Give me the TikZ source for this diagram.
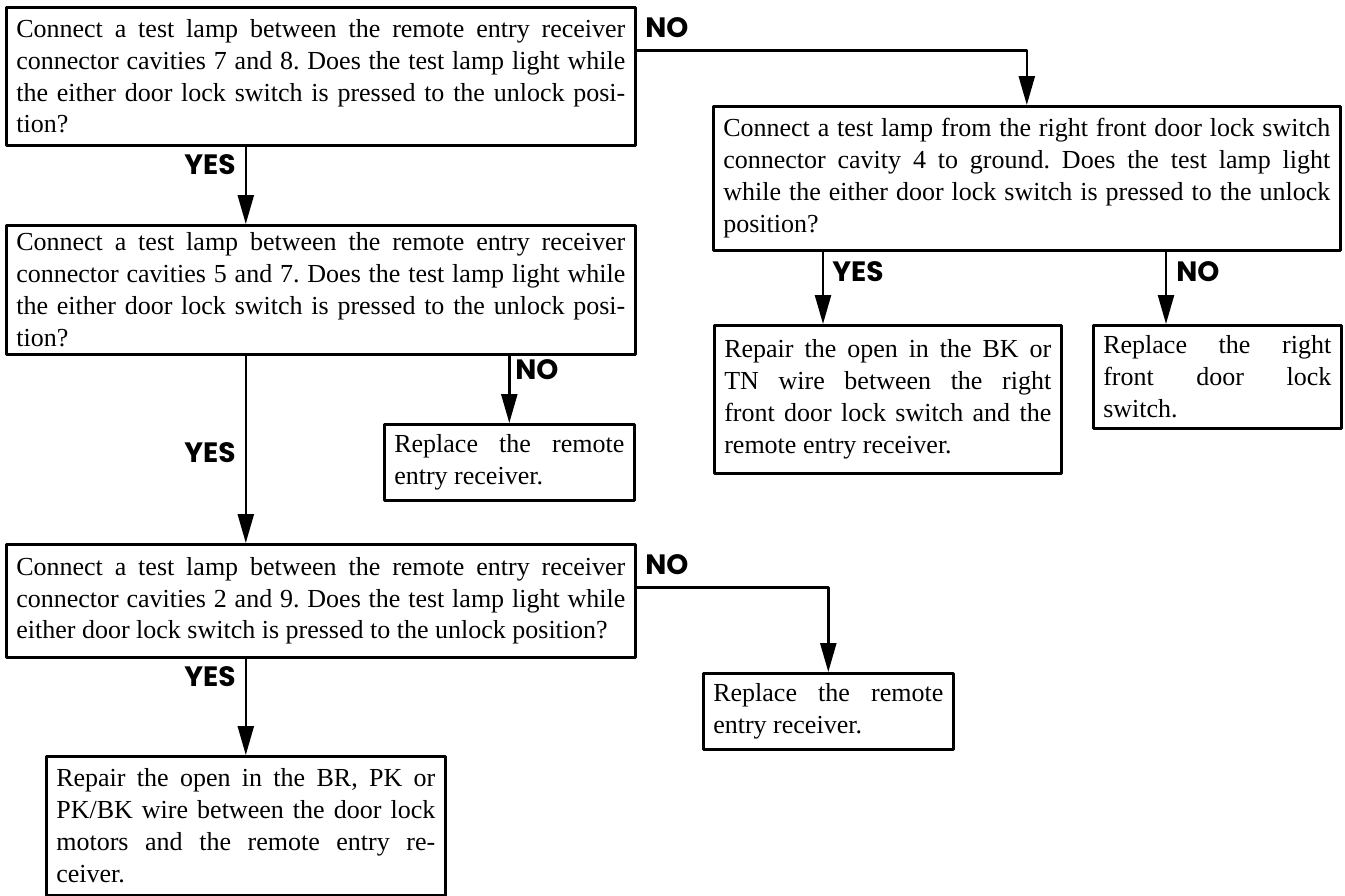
\documentclass[tikz,border=0pt]{standalone}
\usepackage{fontspec}
\setmainfont{Liberation Serif}
\newfontfamily\lblfont{Poppins}
\usetikzlibrary{arrows.meta}
\frenchspacing

\begin{document}
\begin{tikzpicture}[x=0.5pt,y=-0.5pt,line join=round,
	box/.style={draw,line width=1.3pt,inner xsep=5pt,inner ysep=0pt,align=justify,anchor=north west,font=\fontsize{13}{15.9}\selectfont},
	ans/.style={font=\lblfont\bfseries\fontsize{14}{14}\selectfont,inner sep=0pt},
	arr/.style={line width=1.2pt,-{Triangle[length=14.5pt,width=8pt]}}]
	\fill[white] (0,0) rectangle (1345,895);
	\useasboundingbox (0,0) rectangle (1345,895);
	% left column
	\node[box,text width=304.5pt,minimum height=69pt] (q1) at (5,6) {Connect a test lamp between the remote entry receiver\linebreak connector cavities 7 and 8. Does the test lamp light while\linebreak the either door lock switch is pressed to the unlock posi-\linebreak tion?};
	\node[box,text width=304.5pt,minimum height=64.5pt] (q2) at (5,224) {Connect a test lamp between the remote entry receiver\linebreak connector cavities 5 and 7. Does the test lamp light while\linebreak the either door lock switch is pressed to the unlock posi-\linebreak tion?};
	\node[box,text width=115pt,minimum height=38pt] (rr1) at (383,423) {Replace the remote\linebreak entry receiver.};
	\node[box,text width=304.5pt,minimum height=56.5pt] (q3) at (5,543) {Connect a test lamp between the remote entry receiver\linebreak connector cavities 2 and 9. Does the test lamp light while\linebreak either door lock switch is pressed to the unlock position?};
	\node[box,text width=115pt,minimum height=38pt] (rr2) at (702,672) {Replace the remote\linebreak entry receiver.};
	\node[box,text width=189.5pt,minimum height=69.5pt] (q6) at (45,755) {Repair the open in the BR, PK or\linebreak PK/BK wire between the door lock\linebreak motors and the remote entry re-\linebreak ceiver.};
	% right column
	\node[box,text width=303.5pt,minimum height=72pt] (q4) at (712,105) {Connect a test lamp from the right front door lock switch\linebreak connector cavity 4 to ground. Does the test lamp light\linebreak while the either door lock switch is pressed to the unlock\linebreak position?};
	\node[box,text width=163.5pt,minimum height=74pt] (rBK) at (713,324) {Repair the open in the BK or\linebreak TN wire between the right\linebreak front door lock switch and the\linebreak remote entry receiver.};
	\node[box,text width=114pt,minimum height=51.5pt] (rRight) at (1092,324) {Replace the right\linebreak front door lock\linebreak switch.};
	% answers
	\node[ans,anchor=west] (no1) at (645,28) {NO};
	\node[ans,anchor=east] (yes1) at (236,165) {YES};
	\node[ans,anchor=west] (no2) at (515,370) {NO};
	\node[ans,anchor=east] (yes2) at (236,453) {YES};
	\node[ans,anchor=west] (no3) at (645,565) {NO};
	\node[ans,anchor=east] (yes3) at (236,677) {YES};
	\node[ans,anchor=west] (yes4) at (832,272) {YES};
	\node[ans,anchor=west] (no4) at (1176,272) {NO};
	\coordinate (yesx) at (823,290);
	\coordinate (nox) at (1166,290);
	% connectors
	\draw[arr] (q1.south -| q6.north) -- (q2.north -| q6.north);
	\draw[arr] ([yshift=13pt]q1.east) -| (q4.north);
	\draw[arr] (q2.south -| rr1.north) -- (rr1.north);
	\draw[arr] (q2.south -| q6.north) -- (q3.north -| q6.north);
	\draw[arr] ([yshift=6.75pt]q3.east) -| (rr2.north);
	\draw[arr] (q3.south -| q6.north) -- (q6.north);
	\draw[arr] (q4.south -| yesx) -- (rBK.north -| yesx);
	\draw[arr] (q4.south -| nox) -- (rRight.north -| nox);
\end{tikzpicture}
\end{document}
